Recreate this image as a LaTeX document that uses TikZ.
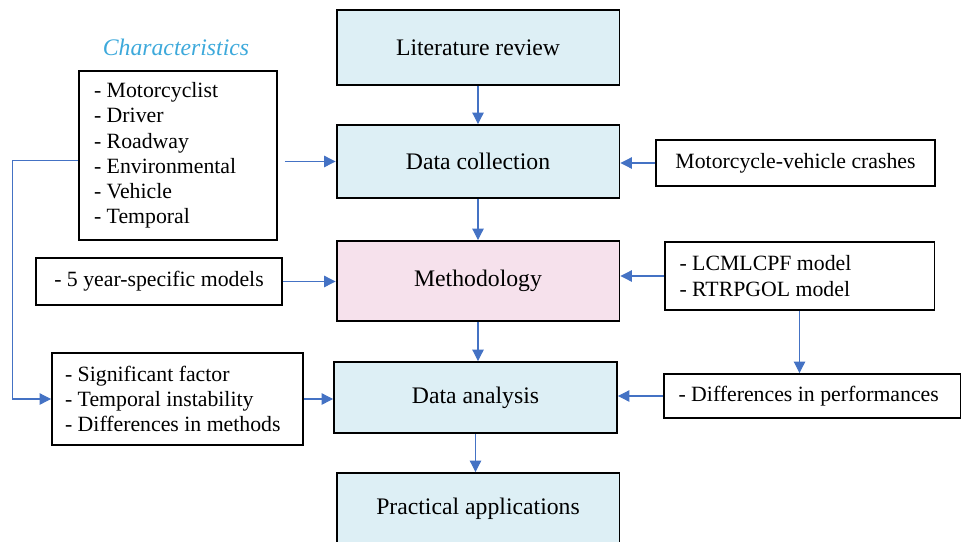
\documentclass[tikz,border=0pt]{standalone}
\usepackage{fontspec}
\setmainfont{Liberation Serif}
\usetikzlibrary{arrows.meta}

\definecolor{boxblue}{HTML}{DDEFF5}
\definecolor{boxpink}{HTML}{F6E1EC}
\definecolor{flowblue}{HTML}{4472C4}
\definecolor{labelblue}{HTML}{3DA9DB}

\tikzset{
  mainbox/.style={draw, line width=1.1pt, fill=boxblue, minimum width=5.66cm,
    font=\fontsize{13.5}{16}\selectfont},
  sidebox/.style={draw, line width=1.1pt, inner ysep=2pt,
    font=\fontsize{12.4}{14.4}\selectfont},
  listbox/.style={sidebox, align=flush left, inner xsep=0.3cm},
  flow/.style={draw=flowblue, line width=0.6pt, -{Triangle[length=6.5pt,width=6.5pt]}}
}

\begin{document}
\begin{tikzpicture}[x=0.02cm, y=-0.02cm]
\useasboundingbox (0,0) rectangle (962,541);

% main column
\node[mainbox, minimum height=1.5cm] (LiteratureReview) at (478,47.5) {Literature review};
\node[mainbox, minimum height=1.46cm] (DataCollection) at (478,161.5) {Data collection};
\node[mainbox, minimum height=1.6cm, fill=boxpink] (Methodology) at (478,281) {Methodology};
\node[mainbox, minimum height=1.42cm] (DataAnalysis) at (475.5,397.5) {Data analysis};
\node[mainbox, minimum height=1.44cm] (PracticalApplications) at (478,509) {Practical applications};

% left side
\node[font=\fontsize{13.5}{16}\selectfont\itshape, text=labelblue] (CharacteristicsLabel) at (176,47) {Characteristics};
\node[listbox, text width=3.36cm, minimum height=3.38cm] (Characteristics) at (178,155.5)
  {- Motorcyclist\\- Driver\\- Roadway\\- Environmental\\- Vehicle\\- Temporal};
\node[sidebox, minimum width=4.92cm, minimum height=0.94cm] (YearModels) at (159,281.5)
  {- 5 year-specific models};
\node[listbox, text width=4.5cm, inner xsep=0.26cm, minimum height=1.84cm] (Findings) at (177.5,399)
  {- Significant factor\\- Temporal instability\\- Differences in methods};

% right side
\node[sidebox, minimum width=5.58cm, minimum height=0.92cm] (MotorcycleCrashes) at (795.5,163)
  {Motorcycle-vehicle crashes};
\node[listbox, text width=4.8cm, minimum height=1.36cm] (ModelList) at (799.5,276)
  {- LCMLCPF model\\- RTRPGOL model};
\node[listbox, text width=5.34cm, minimum height=0.88cm] (Performances) at (812,396)
  {- Differences in performances};

% connectors
\draw[flow] (LiteratureReview) -- (DataCollection);
\draw[flow] (DataCollection) -- (Methodology);
\draw[flow] (Methodology.south) -- (Methodology.south |- DataAnalysis.north);
\draw[flow] (DataAnalysis.south) -- (DataAnalysis.south |- PracticalApplications.north);

\draw[flow, shorten <=4pt] (Characteristics.east |- DataCollection) -- (DataCollection.west);
\draw[flow] (MotorcycleCrashes.west) -- (MotorcycleCrashes.west -| DataCollection.east);
\draw[flow] (YearModels.east) -- (YearModels.east -| Methodology.west);
\draw[flow] (ModelList.west) -- (ModelList.west -| Methodology.east);
\draw[flow] (ModelList.south) -- (ModelList.south |- Performances.north);
\draw[flow] (Findings.east) -- (Findings.east -| DataAnalysis.west);
\draw[flow] (Performances.west) -- (Performances.west -| DataAnalysis.east);

\coordinate (LeftTurn) at (12.5,160.5);
\draw[flow] (Characteristics.west |- LeftTurn) -- (LeftTurn) |- (Findings.west);

\end{tikzpicture}
\end{document}
